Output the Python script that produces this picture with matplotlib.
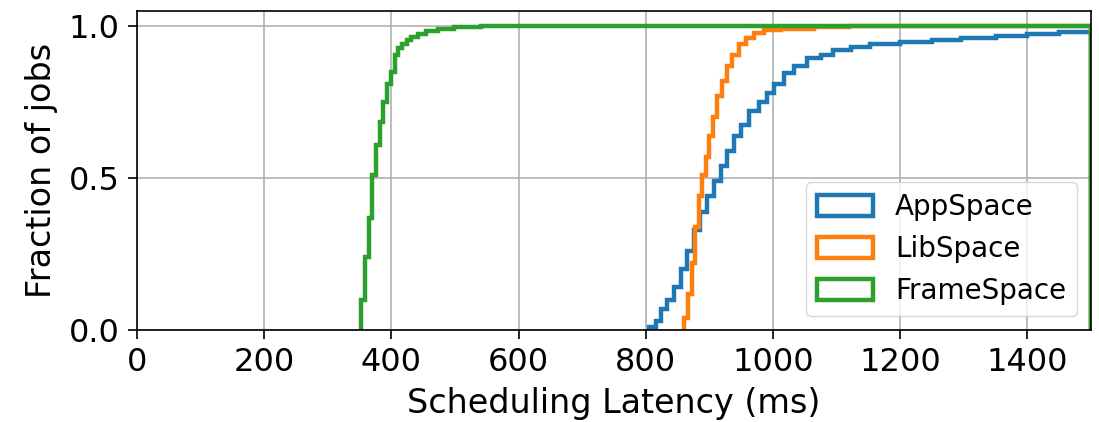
import matplotlib
matplotlib.use("Agg")
import matplotlib.pyplot as plt
from matplotlib.patches import Patch

# CDF: step edges (ms) and fraction of jobs after each edge
app_edges = [805, 816, 824, 834, 844, 855, 865, 876, 886, 897,
             907, 918, 928, 939, 949, 962, 978, 991, 1001, 1017,
             1033, 1054, 1075, 1095, 1122, 1153, 1200, 1250, 1296, 1350,
             1400, 1450, 1500]
app_frac = [0.01, 0.03, 0.07, 0.10, 0.14, 0.20, 0.26, 0.33, 0.39,
            0.44, 0.49, 0.54, 0.59, 0.64, 0.675, 0.72, 0.75, 0.78, 0.81,
            0.845, 0.87, 0.895, 0.905, 0.92, 0.932, 0.941, 0.947, 0.955, 0.962,
            0.968, 0.973, 0.98]

lib_edges = [860, 866, 872, 878, 884, 889, 894, 899, 905, 912,
             920, 928, 936, 946, 957, 970, 986, 1012, 1064, 1120, 1500]
lib_frac = [0.04, 0.12, 0.22, 0.34, 0.44, 0.51, 0.57, 0.64, 0.70, 0.77,
            0.82, 0.87, 0.905, 0.94, 0.96, 0.976, 0.986, 0.991, 0.996, 1.0]

frame_edges = [352, 358, 364, 370, 375, 382, 387, 393, 399, 405,
               410, 417, 424, 431, 442, 455, 473, 499, 541, 1500]
frame_frac = [0.10, 0.24, 0.37, 0.51, 0.61, 0.685, 0.75, 0.81, 0.85, 0.905,
              0.927, 0.943, 0.954, 0.964, 0.973, 0.984, 0.99, 0.996, 1.0]

series = [("AppSpace", app_edges, app_frac, "tab:blue"),
          ("LibSpace", lib_edges, lib_frac, "tab:orange"),
          ("FrameSpace", frame_edges, frame_frac, "tab:green")]

fig = plt.figure(figsize=(10.99, 4.22), dpi=100)
ax = fig.add_axes([137 / 1099, 92 / 422, 954 / 1099, 319 / 422])

handles = []
for name, edges, frac, col in series:
    ax.stairs(frac, edges, baseline=0, fill=False, color=col, linewidth=3.2)
    handles.append(Patch(facecolor="none", edgecolor=col, linewidth=3.2, label=name))

ax.set_xlim(0, 1500)
ax.set_ylim(0, 1.05)
ax.set_xticks(range(0, 1401, 200))
ax.set_yticks([0, 0.5, 1.0])
ax.set_yticklabels(["0.0", "0.5", "1.0"])
ax.grid(True, color="#b0b0b0", linewidth=1.2)
ax.set_axisbelow(True)
ax.tick_params(labelsize=23, width=1.2, length=6.5, pad=6)
for s in ax.spines.values():
    s.set_linewidth(1.2)
ax.set_xlabel("Scheduling Latency (ms)", fontsize=24, labelpad=6)
ax.set_ylabel("Fraction of jobs", fontsize=24, labelpad=8)
ax.legend(handles=handles, loc="lower right", fontsize=20, handleheight=0.8)

fig.savefig("out.png", dpi=100)
